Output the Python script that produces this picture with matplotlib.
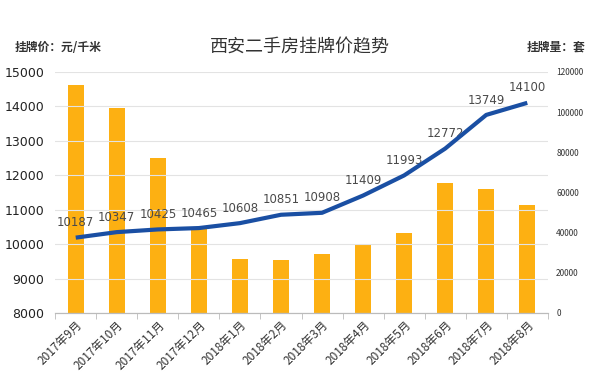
import matplotlib
matplotlib.use("Agg")
import matplotlib.pyplot as plt
import numpy as np

plt.rcParams["font.family"] = ["Noto Sans CJK SC", "DejaVu Sans"]

months = ["2017年9月", "2017年10月", "2017年11月", "2017年12月", "2018年1月",
          "2018年2月", "2018年3月", "2018年4月", "2018年5月", "2018年6月",
          "2018年7月", "2018年8月"]
# listing price (yuan / sqm), left axis
price = [10187, 10347, 10425, 10465, 10608, 10851, 10908, 11409, 11993,
         12772, 13749, 14100]
# listing volume (units), right axis
volume = [113500, 102000, 77000, 42000, 27000, 26500, 29500, 34500, 40000,
          64500, 61500, 53500]

BAR_COLOR = "#FDB012"
LINE_COLOR = "#1A4FA3"

fig = plt.figure(figsize=(6.0, 3.78), dpi=100)
ax = fig.add_axes([0.092, 0.172, 0.821, 0.638])
ax2 = ax.twinx()

x = np.arange(len(months))

# bars on the right axis, drawn behind the line
ax2.bar(x, volume, width=0.4, color=BAR_COLOR, zorder=1)
ax2.set_ylim(0, 120000)
ax2.set_yticks(range(0, 120001, 20000))
ax2.tick_params(axis="y", length=0, labelsize=6, pad=6, labelcolor="#333333")

ax.set_zorder(ax2.get_zorder() + 1)
ax.patch.set_visible(False)
ax.plot(x, price, color=LINE_COLOR, lw=3, solid_capstyle="butt", zorder=3)
for xi, p in zip(x, price):
    ax.annotate(str(p), (xi, p), xytext=(0, 6), textcoords="offset points",
                ha="center", va="bottom", fontsize=8.5, color="#4a4a4a",
                family=["DejaVu Sans"], zorder=2)

ax.set_ylim(8000, 15000)
ax.set_yticks(range(8000, 15001, 1000))
ax.set_xlim(-0.5, len(months) - 0.5)
ax.grid(axis="y", color="#E3E3E3", lw=0.8)
ax.set_axisbelow(True)
ax2.set_axisbelow(True)
ax.tick_params(axis="y", length=0, labelsize=9, labelcolor="#222222", pad=8)
for lbl in ax.get_yticklabels():
    lbl.set_family(["DejaVu Sans"])

ax.set_xticks(x)
ax.set_xticklabels(months, rotation=45, ha="right", rotation_mode="anchor",
                   fontsize=8.5, color="#333333")
ax.set_xticks(np.arange(-0.5, len(months)), minor=True)
ax.tick_params(axis="x", which="major", length=0, pad=4)
ax.tick_params(axis="x", which="minor", length=4, color="#BBBBBB")

for a in (ax, ax2):
    for side in ("top", "left", "right"):
        a.spines[side].set_visible(False)
    a.spines["bottom"].set_color("#BBBBBB")

fig.text(0.5, 0.875, "西安二手房挂牌价趋势", ha="center", va="center",
         fontsize=13, color="#333333")
fig.text(0.025, 0.875, "挂牌价：元/千米", ha="left", va="center",
         fontsize=8.5, fontweight="bold", color="#333333")
fig.text(0.975, 0.875, "挂牌量：套", ha="right", va="center",
         fontsize=8.5, fontweight="bold", color="#333333")

fig.savefig("out.png", dpi=100)
